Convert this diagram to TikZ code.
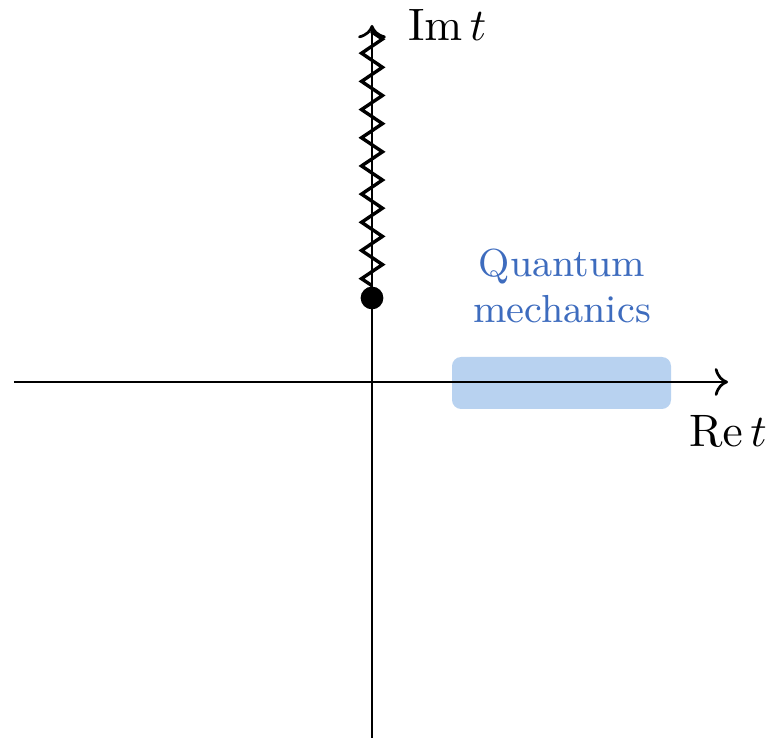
\documentclass[tikz,border=0pt]{standalone}
\usepackage{amsmath,amssymb}
\usepackage{xcolor}
\usepackage{tikz}
\usetikzlibrary{arrows.meta, decorations.pathmorphing, positioning}
\definecolor{qmtext}{RGB}{62,108,190}
\definecolor{qmfill}{RGB}{184,210,240}
\tikzstyle{axis} = [
    line width=0.6pt,
    ->
]
\tikzstyle{cut} = [
    line width=0.75pt,
    decorate,
    decoration={zigzag, segment length=6.2pt, amplitude=2.3pt}
]

\begin{document}
\begin{tikzpicture}[x=0.22pt,y=0.22pt]

\useasboundingbox (-372,-356) rectangle (404,382);

\coordinate (west) at (-358,0);
\coordinate (east) at (356,0);
\coordinate (south) at (0,-356);
\coordinate (north) at (0,357);
\coordinate (cuttop) at (0,350);

\fill[qmfill, rounded corners=2pt] (80,-27) rectangle (299,25);

\draw[axis] (west) -- (east);

\draw[axis] (south) -- (north);

\node[circle, fill=black, inner sep=0pt, minimum size=5pt] (branch) at (0,84) {};

\draw[cut] (branch.north) -- (cuttop);

\node[text=qmtext, align=center, font=\fontsize{8.6}{10}\selectfont]
(qm) at (190,96) {Quantum\\mechanics};

\node[right] (imt) at (20,357) {$\operatorname{Im} t$};

\node (ret) at (356,-49) {$\operatorname{Re} t$};

\end{tikzpicture}
\end{document}
